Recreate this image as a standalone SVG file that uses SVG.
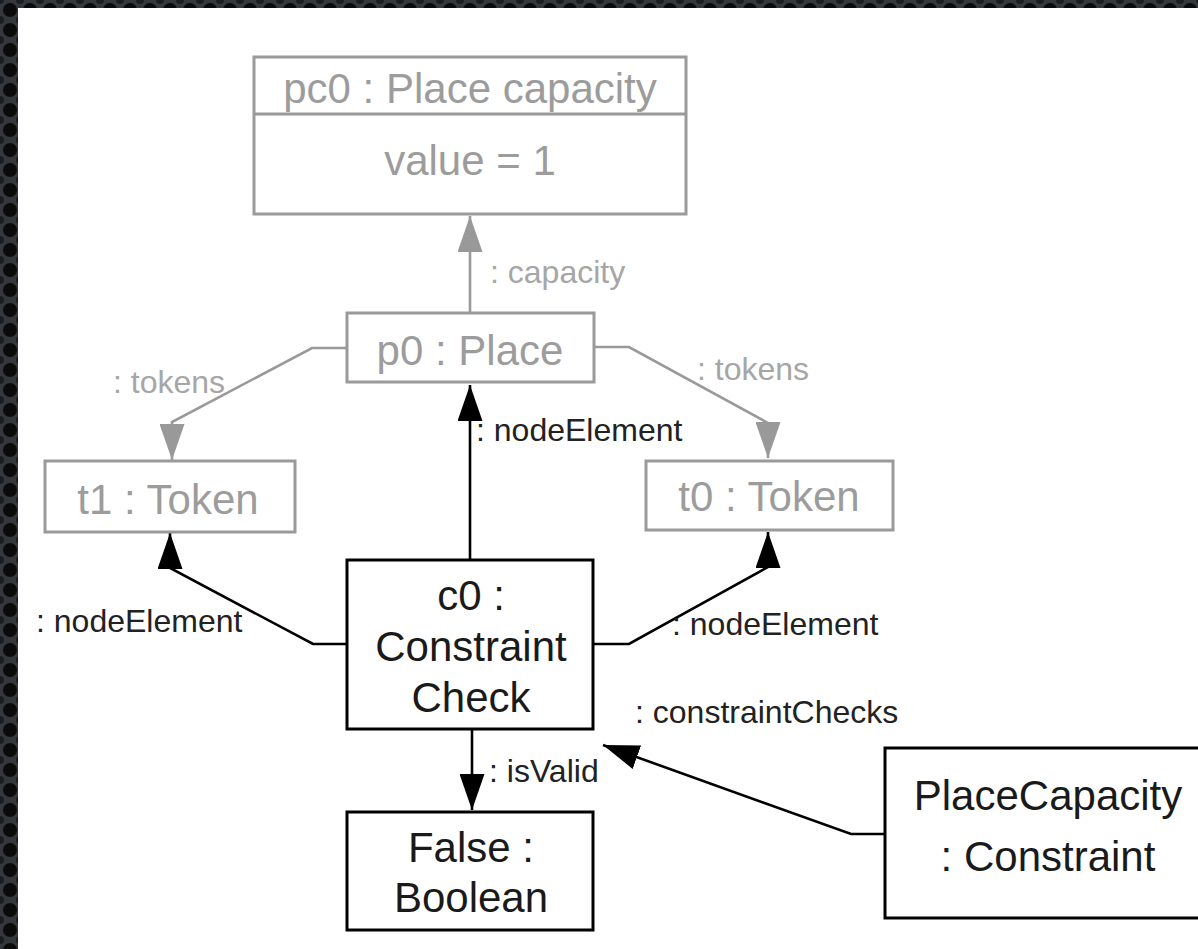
<svg xmlns="http://www.w3.org/2000/svg" width="1198" height="949" viewBox="0 0 1198 949">
  <defs>
    <!-- dark studded frame behind the white sheet -->
    <pattern id="studs" width="20" height="20" patternUnits="userSpaceOnUse">
      <rect width="20" height="20" fill="#34373b"/>
      <circle cx="10" cy="10" r="7" fill="#0b0b0c"/>
      <circle cx="0" cy="0" r="4" fill="#1c1d20"/>
      <circle cx="20" cy="0" r="4" fill="#1c1d20"/>
      <circle cx="0" cy="20" r="4" fill="#1c1d20"/>
      <circle cx="20" cy="20" r="4" fill="#1c1d20"/>
    </pattern>
    <marker id="arrowBlack" viewBox="0 0 36 25" refX="36" refY="12.5" markerWidth="36" markerHeight="25" markerUnits="userSpaceOnUse" orient="auto">
      <path d="M0,0 L36,12.5 L0,25 Z" fill="#000"/>
    </marker>
    <marker id="arrowGray" viewBox="0 0 36 25" refX="36" refY="12.5" markerWidth="36" markerHeight="25" markerUnits="userSpaceOnUse" orient="auto">
      <path d="M0,0 L36,12.5 L0,25 Z" fill="#999"/>
    </marker>
  </defs>
  <style>
    .box { fill: #fff; stroke-width: 3; }
    .gray .box, .gray line { stroke: #9a9a9a; }
    .dark .box { stroke: #000; }
    .node-text { font-family: "Liberation Sans", Arial, sans-serif; font-size: 42px; text-anchor: middle; }
    .gray .node-text { fill: #9c9c9c; }
    .dark .node-text { fill: #1a1a1a; }
    .conn { fill: none; stroke-width: 2.6; }
    .conn-gray { stroke: #999; marker-end: url(#arrowGray); }
    .conn-black { stroke: #000; marker-end: url(#arrowBlack); }
    .label { font-family: "Liberation Sans", Arial, sans-serif; font-size: 32px; }
    .label-gray { fill: #a6a6a6; }
    .label-black { fill: #222; }
  </style>

  <!-- frame and sheet -->
  <rect x="0" y="0" width="1198" height="949" fill="url(#studs)"/>
  <rect x="18" y="8" width="1180" height="941" fill="#fff"/>

  <!-- connectors -->
  <g id="connectors">
    <path class="conn conn-gray" d="M470,313 L470,216"/>
    <path class="conn conn-gray" d="M347,348 L312,348 L172,422 L172,460"/>
    <path class="conn conn-gray" d="M594,347 L629,347 L768,423 L768,458"/>
    <path class="conn conn-black" d="M470,560 L470,385"/>
    <path class="conn conn-black" d="M347,644 L313,644 L170,568 L170,533"/>
    <path class="conn conn-black" d="M594,644 L629,644 L768,567 L768,532"/>
    <path class="conn conn-black" d="M472,729 L472,810"/>
    <path class="conn conn-black" d="M885,834 L851,834 L603,745"/>

    <text class="label label-gray" x="490" y="283">: capacity</text>
    <text class="label label-gray" x="113" y="393">: tokens</text>
    <text class="label label-gray" x="697" y="380">: tokens</text>
    <text class="label label-black" x="476" y="441">: nodeElement</text>
    <text class="label label-black" x="36" y="632">: nodeElement</text>
    <text class="label label-black" x="672" y="635">: nodeElement</text>
    <text class="label label-black" x="635" y="723">: constraintChecks</text>
    <text class="label label-black" x="489" y="782">: isValid</text>
  </g>

  <!-- nodes -->
  <g id="pc0" class="gray">
    <rect class="box" x="254" y="57" width="432" height="157"/>
    <line x1="254" y1="114" x2="686" y2="114" stroke-width="3"/>
    <text class="node-text" x="470" y="103">pc0 : Place capacity</text>
    <text class="node-text" x="470" y="175">value = 1</text>
  </g>

  <g id="p0" class="gray">
    <rect class="box" x="347" y="313" width="247" height="69"/>
    <text class="node-text" x="470" y="365">p0 : Place</text>
  </g>

  <g id="t1" class="gray">
    <rect class="box" x="45" y="461" width="250" height="71"/>
    <text class="node-text" x="168" y="514">t1 : Token</text>
  </g>

  <g id="t0" class="gray">
    <rect class="box" x="646" y="461" width="247" height="69"/>
    <text class="node-text" x="769" y="511">t0 : Token</text>
  </g>

  <g id="c0" class="dark">
    <rect class="box" x="347" y="560" width="246" height="169"/>
    <text class="node-text" x="471" y="610">c0 :</text>
    <text class="node-text" x="471" y="661">Constraint</text>
    <text class="node-text" x="471" y="712">Check</text>
  </g>

  <g id="false" class="dark">
    <rect class="box" x="347" y="812" width="246" height="118"/>
    <text class="node-text" x="471" y="862">False :</text>
    <text class="node-text" x="471" y="912">Boolean</text>
  </g>

  <g id="placeCapacity" class="dark">
    <rect class="box" x="885" y="748" width="330" height="170"/>
    <text class="node-text" x="1048" y="810">PlaceCapacity</text>
    <text class="node-text" x="1048" y="871">: Constraint</text>
  </g>
</svg>
